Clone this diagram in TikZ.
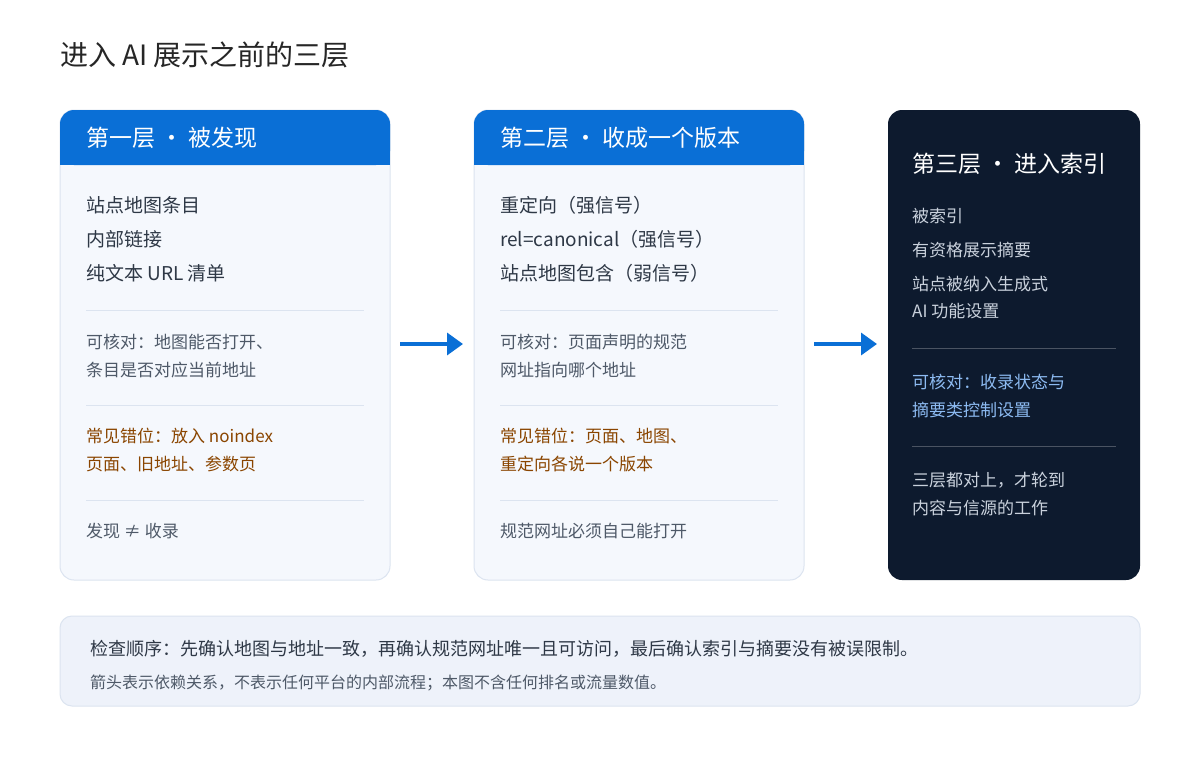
\documentclass[tikz,border=0pt]{standalone}
\usepackage{fontspec}
\setmainfont{Noto Sans CJK SC}
\usetikzlibrary{arrows.meta}
\definecolor{blu}{HTML}{0A6FD6}
\definecolor{cardbg}{HTML}{F5F8FD}
\definecolor{cardln}{HTML}{DCE4F0}
\definecolor{dark}{HTML}{0D1A2E}
\definecolor{txt}{HTML}{2E3846}
\definecolor{sub}{HTML}{4E5968}
\definecolor{org}{HTML}{8A4500}
\definecolor{lt}{HTML}{C9D1DC}
\definecolor{ltb}{HTML}{8DBBF2}
\definecolor{botbg}{HTML}{EEF2FA}
\begin{document}
\begin{tikzpicture}[x=1pt,y=-1pt,
 t/.style={anchor=west,inner sep=0pt,font=\fontsize{19}{19}\selectfont,text=txt},
 s/.style={anchor=west,inner sep=0pt,font=\fontsize{17}{17}\selectfont,text=sub},
 o/.style={s,text=org},
 h/.style={anchor=west,inner sep=0pt,font=\fontsize{23}{23}\selectfont,text=white},
 div/.style={draw=cardln,line width=0.8pt},
 ddiv/.style={draw=white!25!dark,line width=0.8pt},
 arr/.style={draw=blu,line width=3.5pt,-{Triangle[length=16pt,width=22pt]}}]
\useasboundingbox (0,0) rectangle (1200,760);
\fill[white] (0,0) rectangle (1200,760);
\node[anchor=west,inner sep=0pt,font=\fontsize{28}{28}\selectfont,text=black!85] (title) at (60,55) {进入 AI 展示之前的三层};
% card 1
\foreach \x/\n in {60/a,474/b}{
 \draw[cardln,fill=cardbg,line width=1pt,rounded corners=14pt] (\x,110) rectangle (\x+330,580);
 \fill[blu,rounded corners=14pt] (\x,110) rectangle (\x+330,165);
 \fill[blu] (\x,140) rectangle (\x+330,165);
 \draw[div] (\x+26,310) -- (\x+304,310);
 \draw[div] (\x+26,405) -- (\x+304,405);
 \draw[div] (\x+26,500) -- (\x+304,500);
}
\node[h] (h1) at (86,138) {第一层 · 被发现};
\node[t] (a1) at (86,205) {站点地图条目};
\node[t] (a2) at (86,239) {内部链接};
\node[t] (a3) at (86,273) {纯文本 URL 清单};
\node[s] (a4) at (86,342) {可核对：地图能否打开、};
\node[s] (a5) at (86,370) {条目是否对应当前地址};
\node[o] (a6) at (86,436) {常见错位：放入 noindex};
\node[o] (a7) at (86,464) {页面、旧地址、参数页};
\node[s] (a8) at (86,531) {发现 ≠ 收录};
\node[h] (h2) at (500,138) {第二层 · 收成一个版本};
\node[t] (b1) at (500,205) {重定向（强信号）};
\node[t] (b2) at (500,239) {rel=canonical（强信号）};
\node[t] (b3) at (500,273) {站点地图包含（弱信号）};
\node[s] (b4) at (500,342) {可核对：页面声明的规范};
\node[s] (b5) at (500,370) {网址指向哪个地址};
\node[o] (b6) at (500,436) {常见错位：页面、地图、};
\node[o] (b7) at (500,464) {重定向各说一个版本};
\node[s] (b8) at (500,531) {规范网址必须自己能打开};
% card 3
\fill[dark,rounded corners=14pt] (888,110) rectangle (1140,580);
\draw[ddiv] (912,348) -- (1116,348);
\draw[ddiv] (912,446) -- (1116,446);
\node[h] (h3) at (912,164) {第三层 · 进入索引};
\node[s,text=lt] (c1) at (912,216) {被索引};
\node[s,text=lt] (c2) at (912,250) {有资格展示摘要};
\node[s,text=lt] (c3) at (912,284) {站点被纳入生成式};
\node[s,text=lt] (c4) at (912,311) {AI 功能设置};
\node[s,text=ltb] (c5) at (912,382) {可核对：收录状态与};
\node[s,text=ltb] (c6) at (912,410) {摘要类控制设置};
\node[s,text=lt] (c7) at (912,480) {三层都对上，才轮到};
\node[s,text=lt] (c8) at (912,508) {内容与信源的工作};
% arrows
\coordinate (p1) at (400,344); \coordinate (q1) at (463,344);
\coordinate (p2) at (814,344); \coordinate (q2) at (877,344);
\draw[arr] (p1) -- (q1);
\draw[arr] (p2) -- (q2);
% bottom
\draw[cardln,fill=botbg,line width=1pt,rounded corners=12pt] (60,616) rectangle (1140,706);
\node[anchor=west,inner sep=0pt,font=\fontsize{18}{18}\selectfont,text=txt] (n1) at (90,649) {检查顺序：先确认地图与地址一致，再确认规范网址唯一且可访问，最后确认索引与摘要没有被误限制。};
\node[anchor=west,inner sep=0pt,font=\fontsize{16}{16}\selectfont,text=sub] (n2) at (90,683) {箭头表示依赖关系，不表示任何平台的内部流程；本图不含任何排名或流量数值。};
\end{tikzpicture}
\end{document}
